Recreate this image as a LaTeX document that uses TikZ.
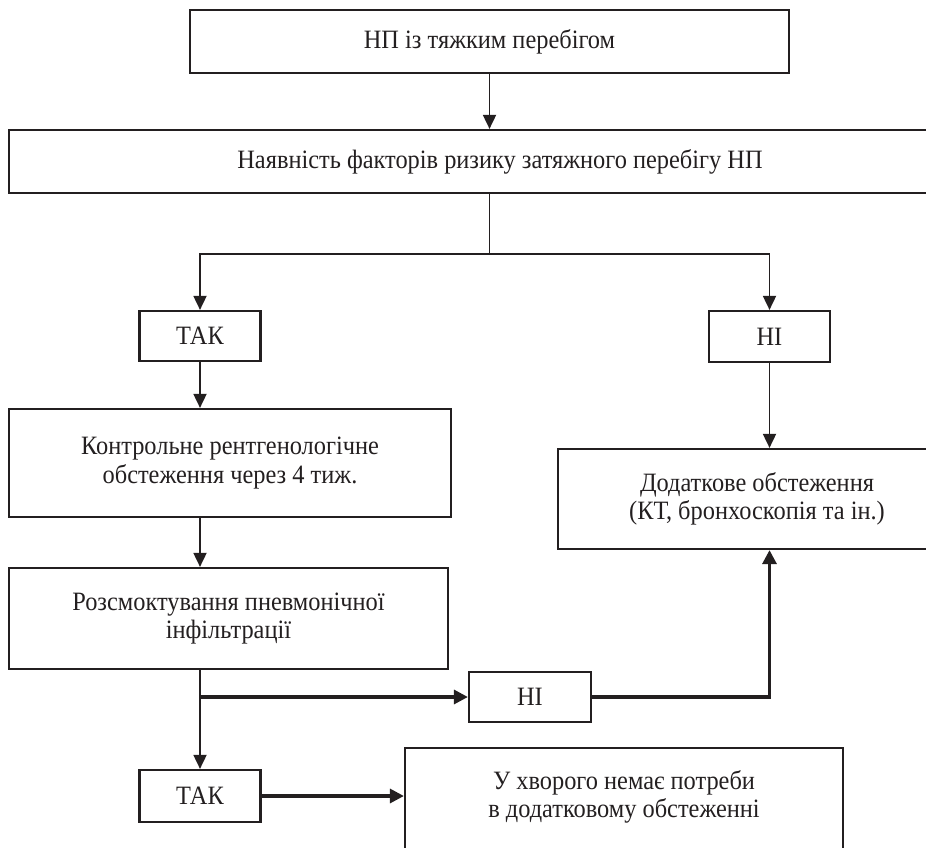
\documentclass[tikz,border=0pt]{standalone}
\usepackage{fontspec}
\setmainfont{Liberation Serif}[FakeStretch=0.92]
\usetikzlibrary{arrows.meta,calc}
\definecolor{ink}{HTML}{231F20}
\begin{document}
\begin{tikzpicture}[x=1pt,y=-1pt,
  font=\fontsize{26.5}{28.5}\selectfont,
  boxx/.style={draw=ink,line width=2.2pt,inner sep=0pt,align=center,text=ink},
  lbl/.style={inner sep=0pt,align=center,text=ink},
  conn/.style={draw=ink,line width=1.8pt},
  arr/.style={conn,-{Triangle[length=14pt,width=13pt]}},
  thk/.style={draw=ink,line width=3.2pt,-{Triangle[length=14pt,width=14pt]}}]
\useasboundingbox (0,0) rectangle (926,848);
\clip (0,0) rectangle (926,848);
% boxes
\node[boxx,minimum width=599pt,minimum height=63pt] (b1) at (489.5,41.5) {НП із тяжким перебігом};
\node[boxx,minimum width=982pt,minimum height=63pt] (b2) at (500,161.5) {};
\node[lbl] (b2t) at (500,161.5) {Наявність факторів ризику затяжного перебігу НП};
\node[boxx,minimum width=121pt,minimum height=50pt] (tak1) at (200,336) {ТАК};
\node[boxx,minimum width=121pt,minimum height=51pt] (ni1) at (769.5,336.5) {НІ};
\node[boxx,minimum width=442pt,minimum height=108pt] (b3) at (230,463) {Контрольне рентгенологічне\\обстеження через 4 тиж.};
\node[boxx,minimum width=398pt,minimum height=100pt] (b4) at (757,499) {Додаткове обстеження\\(КТ, бронхоскопія та ін.)};
\node[boxx,minimum width=439pt,minimum height=101pt] (b5) at (228.5,618.5) {Розсмоктування пневмонічної\\інфільтрації};
\node[boxx,minimum width=122pt,minimum height=50pt] (ni2) at (530,697) {НІ};
\node[boxx,minimum width=121pt,minimum height=52pt] (tak2) at (200,796) {ТАК};
\node[boxx,minimum width=438pt,minimum height=114pt] (b6) at (624,805) {};
\node[lbl] (b6t) at (624,797) {У хворого немає потреби\\в додатковому обстеженні};
% connectors
\draw[arr] (b1.south) -- (b1.south |- b2.north);
\coordinate (split) at ($(b1.south |- b2.south)+(0,60)$);
\draw[conn] (b1.south |- b2.south) -- (split);
\draw[arr] (split) -| (tak1.north);
\draw[arr] (split) -| (ni1.north);
\draw[arr] (tak1.south) -- (tak1.south |- b3.north);
\draw[arr] (ni1.south) -- (ni1.south |- b4.north);
\draw[arr] (tak1.south |- b3.south) -- (tak1.south |- b5.north);
\draw[arr] (tak2.north |- b5.south) -- (tak2.north);
\coordinate (br) at (tak2.north |- ni2.west);
\draw[thk] (br) -- (ni2.west);
\draw[thk] (ni2.east) -| (ni1.south |- b4.south);
\draw[thk] (tak2.east) -- (tak2.east -| b6.west);
\end{tikzpicture}
\end{document}
